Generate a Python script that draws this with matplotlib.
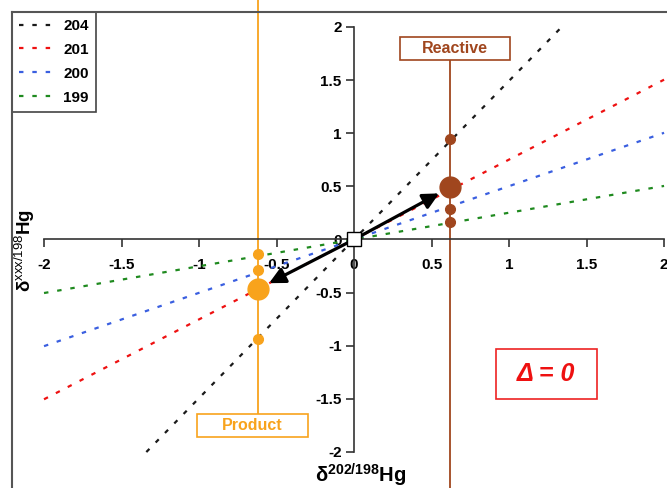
import numpy as np
import matplotlib.pyplot as plt
from matplotlib.patches import Rectangle
from matplotlib.lines import Line2D

plt.rcParams['font.family'] = ['Liberation Sans', 'DejaVu Sans']
plt.rcParams['mathtext.fontset'] = 'custom'
plt.rcParams['mathtext.rm'] = 'Liberation Sans'
plt.rcParams['mathtext.bf'] = 'Liberation Sans:bold'

# mass-dependent fractionation lines (slope vs 202/198)
isotopes = ['204', '201', '200', '199']
slopes = [1.493, 0.752, 0.502, 0.252]
x_limits = [1.34, 2.0, 2.0, 2.0]
line_colors = ['#1a1a1a', '#ee1111', '#3a5fe0', '#1f8a1f']

# reactive / product points
reactive_x = 0.62
reactive_y = [0.95, 0.49, 0.29, 0.16]
reactive_big = [False, True, False, False]
product_x = -0.62
product_y = [-0.14, -0.29, -0.465, -0.94]
product_big = [False, False, True, False]

ticks = [-2, -1.5, -1, -0.5, 0, 0.5, 1, 1.5, 2]
tick_labels = ['-2', '-1.5', '-1', '-0.5', '0', '0.5', '1', '1.5', '2']

c_react = '#a0461e'
c_prod = '#f8a31c'

fig = plt.figure(figsize=(6.67, 4.88), dpi=100)
ax = fig.add_axes([0, 0, 1, 1])
ax.set_xlim(-2.284, 2.019)
ax.set_ylim(-2.339, 2.254)

for iso, s, xm, c in zip(isotopes, slopes, x_limits, line_colors):
    xx = np.array([-xm, xm])
    ax.plot(xx, s*xx, ls=(0, (2, 4)), lw=1.6, color=c, label=iso, zorder=2)

# vertical lines with their label boxes
ax.plot([reactive_x, reactive_x], [-2.339, 1.69], color=c_react, lw=1.3, zorder=1)
ax.plot([product_x, product_x], [-1.642, 2.254], color=c_prod, lw=1.3, zorder=1)

ax.add_patch(Rectangle((0.297, 1.689), 0.709, 0.217, fc='white', ec=c_react, lw=1.2, zorder=3))
ax.text(0.652, 1.797, 'Reactive', color=c_react, fontsize=11.5, fontweight='bold',
        ha='center', va='center', zorder=4)
ax.add_patch(Rectangle((-1.013, -1.859), 0.716, 0.217, fc='white', ec=c_prod, lw=1.2, zorder=3))
ax.text(-0.655, -1.75, 'Product', color=c_prod, fontsize=11.5, fontweight='bold',
        ha='center', va='center', zorder=4)

for y, big in zip(reactive_y, reactive_big):
    ax.plot(reactive_x, y, 'o', color=c_react, ms=15 if big else 7, zorder=5)
for y, big in zip(product_y, product_big):
    ax.plot(product_x, y, 'o', color=c_prod, ms=15 if big else 7, zorder=5)

# arrows from origin
for px, py in [(reactive_x, reactive_y[1]), (product_x, product_y[2])]:
    ax.annotate('', xy=(px, py), xytext=(0, 0),
                arrowprops=dict(arrowstyle='-|>', color='black', lw=2.3,
                                mutation_scale=24, shrinkA=0, shrinkB=9),
                zorder=6)
ax.plot(0, 0, 's', mfc='white', mec='black', mew=1.0, ms=10, zorder=7)

# delta box
ax.add_patch(Rectangle((0.916, -1.501), 0.652, 0.47, fc='white', ec='#ee2222', lw=1.2, zorder=3))
ax.text(1.24, -1.27, 'Δ = 0', color='#ee1111', fontsize=18, fontweight='bold',
        fontstyle='italic', ha='center', va='center', zorder=4)

# axes through origin
for side in ['top', 'right']:
    ax.spines[side].set_visible(False)
for side in ['left', 'bottom']:
    ax.spines[side].set_position(('data', 0))
    ax.spines[side].set_bounds(-2, 2)
    ax.spines[side].set_color('#333333')
    ax.spines[side].set_linewidth(1.2)
ax.set_xticks(ticks)
ax.set_xticklabels(tick_labels, fontweight='bold')
ax.set_yticks(ticks)
ax.set_yticklabels(tick_labels, fontweight='bold')
ax.tick_params(axis='x', direction='out', length=6, width=1.2, pad=7, labelsize=11, color='#333333')
ax.tick_params(axis='y', direction='out', length=6, width=1.2, pad=3, labelsize=11, color='#333333')

ax.text(0.045, -2.225, 'δ$^{\\mathbf{202/198}}$Hg', fontsize=14.5, fontweight='bold',
        ha='center', va='center')
ax.text(-2.124, -0.1, 'δ$^{\\mathrm{xxx/198}}$Hg', fontsize=13.5, fontweight='bold',
        rotation=90, ha='center', va='center')

# outer frame (top and left edge of the original figure)
fx = 12/667
fy = 1 - 12/488
fig.add_artist(Line2D([fx, fx], [0, fy], transform=fig.transFigure, color='#555555', lw=1.5))
fig.add_artist(Line2D([fx, 1], [fy, fy], transform=fig.transFigure, color='#555555', lw=1.5))

leg = ax.legend(loc='upper left', bbox_to_anchor=(fx, fy), bbox_transform=fig.transFigure,
                borderaxespad=0, fancybox=False, edgecolor='#444444', framealpha=1,
                handlelength=2.5, labelspacing=0.65, handletextpad=0.4, borderpad=0.45,
                prop={'size': 11, 'weight': 'bold'})
leg.get_frame().set_linewidth(1.2)

fig.savefig('out.png', dpi=100)
